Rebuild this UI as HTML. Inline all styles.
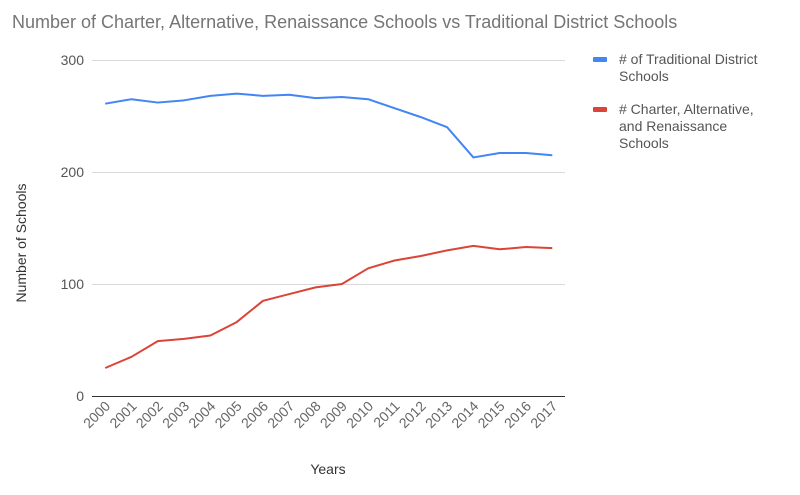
<!DOCTYPE html>
<html><head><style>body{margin:0;background:#fff}</style></head><body>
<svg width="800" height="490" xmlns="http://www.w3.org/2000/svg" font-family="Liberation Sans, sans-serif">
<rect width="800" height="490" fill="#fff"/>
<text x="12" y="28" font-size="18" fill="#757575">Number of Charter, Alternative, Renaissance Schools vs Traditional District Schools</text>
<g stroke="#d9d9d9" stroke-width="1">
<line x1="92" y1="60.5" x2="565" y2="60.5"/>
<line x1="92" y1="172.5" x2="565" y2="172.5"/>
<line x1="92" y1="284.5" x2="565" y2="284.5"/>
</g>
<line x1="92" y1="396.5" x2="565" y2="396.5" stroke="#333" stroke-width="1"/>
<g font-size="14" fill="#555" text-anchor="end">
<text x="84" y="65">300</text><text x="84" y="177">200</text><text x="84" y="289">100</text><text x="84" y="401">0</text>
</g>
<text transform="translate(26,243) rotate(-90)" font-size="14" fill="#333" text-anchor="middle">Number of Schools</text>
<text x="328" y="474" font-size="14" fill="#333" text-anchor="middle">Years</text>
<g id="xl" font-size="14" fill="#666" text-anchor="end"></g>
<polyline id="b" fill="none" stroke="#4285f4" stroke-width="2" stroke-linejoin="round"/>
<polyline id="r" fill="none" stroke="#db4437" stroke-width="2" stroke-linejoin="round"/>
<rect x="593" y="57" width="14" height="5" fill="#4285f4" rx="1"/>
<text font-size="14" fill="#555"><tspan x="619" y="64"># of Traditional District</tspan><tspan x="619" y="81">Schools</tspan></text>
<rect x="593" y="107" width="14" height="5" fill="#db4437" rx="1"/>
<text font-size="14" fill="#555"><tspan x="619" y="114"># Charter, Alternative,</tspan><tspan x="619" y="131">and Renaissance</tspan><tspan x="619" y="148">Schools</tspan></text>
</svg>
<script>
var b=[261,265,262,264,268,270,268,269,266,267,265,257,249,240,213,217,217,215];
var r=[25,35,49,51,54,66,85,91,97,100,114,121,125,130,134,131,133,132];
function X(i){return 105.2+i*26.3}function Y(v){return 396-v*1.12}
document.getElementById('b').setAttribute('points',b.map((v,i)=>X(i)+','+Y(v)).join(' '));
document.getElementById('r').setAttribute('points',r.map((v,i)=>X(i)+','+Y(v)).join(' '));
var g=document.getElementById('xl'),s='';
for(var i=0;i<18;i++){var x=X(i)+6,y=407;s+='<text transform="translate('+x+','+y+') rotate(-45)">'+(2000+i)+'</text>';}
g.innerHTML=s;
</script>
</body></html>
